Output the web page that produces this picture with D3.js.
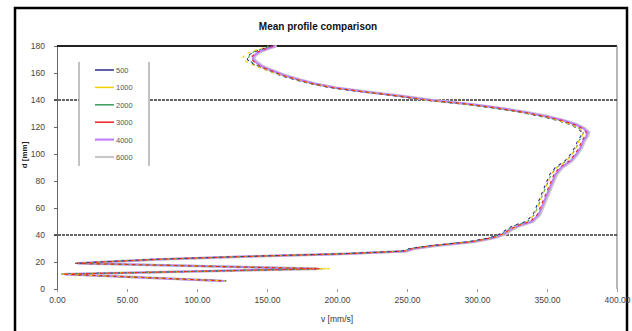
<!DOCTYPE html>
<html>
<head>
<meta charset="utf-8">
<script src="https://cdn.jsdelivr.net/npm/d3@7"></script>
<style>
  html, body { margin: 0; padding: 0; background: #fff; }
  svg { display: block; font-family: 'Liberation Sans', Arial, sans-serif; }
</style>
</head>
<body>
<div id="chart"></div>
<script>
// depth of each profile point [mm], top to bottom (zigzag near the bed)
const depths = [180, 178, 176, 174, 172, 170, 168, 165, 162, 158, 155, 152, 149, 146, 143, 140,
  137, 134, 131, 128, 125, 122, 119, 116, 113, 110, 105, 100, 95, 90, 85, 80, 75, 70, 65, 60,
  55, 50, 47, 44, 41, 38, 35, 32, 30, 28, 26, 24, 22, 20, 19, 15, 11, 6];

const seriesNames = ['500', '1000', '2000', '3000', '4000', '6000'];
const seriesColors = ['#2b2b8c', '#f5d000', '#3a9a5e', '#f02020', '#c080ff', '#c8c8c8'];

// velocity v [mm/s] per series
const v500 = [153, 147, 142, 138, 136, 136, 138, 143, 150, 160, 170, 181, 196, 218, 242, 262,
  290, 312, 330, 345, 357, 366, 372, 375, 374, 372, 370, 367, 363, 356, 352, 350, 348, 346, 344, 342,
  340, 335, 326, 321, 317, 309, 294, 266, 252, 246, 200, 130, 70, 30, 13, 189, 2, 122];
const v1000 = [151, 145, 139, 135, 133, 133, 136, 142, 150, 161, 172, 183, 198, 220, 244, 264,
  292, 314, 332, 347, 358, 367, 373, 376, 375, 373, 371, 368, 364, 357, 353, 351, 349, 347, 345, 343,
  341, 336, 330, 324, 320, 312, 296, 268, 254, 248, 204, 134, 74, 32, 14, 195, 3, 120];
const v2000 = [153, 147, 141, 138, 137, 137, 139, 144, 151, 161, 171, 182, 197, 219, 243, 263,
  291, 313, 331, 346, 358, 367, 373, 376, 375, 373, 371, 368, 364, 357, 353, 351, 349, 347, 345, 343,
  341, 336, 327, 322, 318, 310, 295, 267, 253, 247, 202, 132, 72, 31, 13, 190, 3, 121];
const v3000 = [155, 149, 144, 141, 139, 139, 141, 145, 152, 162, 172, 183, 198, 220, 244, 265,
  293, 315, 333, 348, 360, 369, 375, 378, 377, 375, 373, 370, 366, 359, 355, 353, 351, 349, 347, 345,
  343, 338, 329, 323, 319, 311, 296, 268, 254, 248, 203, 133, 73, 32, 14, 188, 4, 120];
const v4000 = [156, 150, 145, 142, 140, 140, 142, 146, 153, 163, 173, 184, 199, 221, 245, 266,
  294, 316, 334, 349, 361, 370, 376, 379, 378, 376, 374, 371, 367, 360, 356, 354, 352, 350, 348, 346,
  344, 339, 330, 324, 320, 312, 297, 269, 255, 249, 204, 134, 74, 33, 14, 187, 5, 119];
const v6000 = [157, 151, 146, 143, 141, 141, 143, 147, 154, 164, 174, 185, 200, 222, 246, 267,
  295, 317, 335, 350, 362, 371, 377, 380, 379, 377, 375, 372, 368, 361, 357, 355, 353, 351, 349, 347,
  345, 340, 331, 325, 321, 313, 298, 270, 256, 250, 205, 135, 75, 34, 15, 186, 6, 118];

const seriesValues = [v500, v1000, v2000, v3000, v4000, v6000];

const xTicks = [0, 50, 100, 150, 200, 250, 300, 350, 400];
const yTicks = [0, 20, 40, 60, 80, 100, 120, 140, 160, 180];
const gridDepths = [40, 140];

const W = 632, H = 331;
const margin = { top: 46, right: 15, bottom: 42, left: 57 };
const innerW = W - margin.left - margin.right;
const innerH = H - margin.top - margin.bottom;

const svg = d3.select('#chart').append('svg')
  .attr('width', W)
  .attr('height', H);

// outer frame
svg.append('rect')
  .attr('x', 15).attr('y', 8)
  .attr('width', 612).attr('height', 330)
  .attr('fill', 'none')
  .attr('stroke', '#000')
  .attr('stroke-width', 2.5);

svg.append('text')
  .attr('x', 318).attr('y', 30)
  .attr('text-anchor', 'middle')
  .attr('font-size', 10)
  .attr('font-weight', 'bold')
  .attr('fill', '#111')
  .text('Mean profile comparison');

const x = d3.scaleLinear().domain([0, 400]).range([0, innerW]);
const y = d3.scaleLinear().domain([0, 180]).range([innerH, 0]);

const g = svg.append('g')
  .attr('transform', 'translate(' + margin.left + ',' + margin.top + ')');

// x axis: ticks and labels, no line
const xAxis = g.append('g')
  .attr('transform', 'translate(0,' + innerH + ')')
  .call(d3.axisBottom(x).tickValues(xTicks).tickSize(3).tickPadding(5).tickFormat(d3.format('.2f')));
xAxis.select('.domain').remove();
xAxis.selectAll('line').attr('stroke', '#999');
xAxis.selectAll('text').attr('font-size', 8.5).attr('fill', '#444')
  .attr('font-family', "'Liberation Sans', Arial, sans-serif");

// y axis
const yAxis = g.append('g')
  .call(d3.axisLeft(y).tickValues(yTicks).tickSize(3).tickPadding(9));
yAxis.select('.domain').attr('stroke', '#666');
yAxis.selectAll('line').attr('stroke', '#666');
yAxis.selectAll('text').attr('font-size', 8.5).attr('fill', '#444')
  .attr('font-family', "'Liberation Sans', Arial, sans-serif");

// plot border top and right
g.append('line')
  .attr('x1', 0).attr('x2', innerW)
  .attr('y1', 0).attr('y2', 0)
  .attr('stroke', '#222').attr('stroke-width', 2);
g.append('line')
  .attr('x1', innerW).attr('x2', innerW)
  .attr('y1', 0).attr('y2', innerH)
  .attr('stroke', '#888').attr('stroke-width', 1.2);

// dashed horizontal lines
g.selectAll('.grid')
  .data(gridDepths)
  .enter().append('line')
  .attr('class', 'grid')
  .attr('x1', -3).attr('x2', innerW)
  .attr('y1', d => y(d)).attr('y2', d => y(d))
  .attr('stroke', '#333')
  .attr('stroke-width', 1.5)
  .attr('stroke-dasharray', '3,1');

// profiles
const line = d3.line()
  .x(d => x(d[1]))
  .y(d => y(d[0]));

const order = [5, 4, 0, 2, 1, 3];
const widths = [1.1, 1.2, 1.1, 1.1, 2, 2.8];
order.forEach(i => {
  const pts = depths.map((d, k) => [d, seriesValues[i][k]]);
  g.append('path')
    .datum(pts)
    .attr('fill', 'none')
    .attr('stroke', seriesColors[i])
    .attr('stroke-width', widths[i])
    .attr('stroke-dasharray', i < 4 ? '3,4' : null)
    .attr('stroke-dashoffset', i * 2)
    .attr('d', line);
});

// legend
const legend = svg.append('g').attr('transform', 'translate(79,62)');
legend.append('rect')
  .attr('width', 70).attr('height', 104)
  .attr('fill', '#fff');
legend.selectAll('.edge')
  .data([0, 70])
  .enter().append('line')
  .attr('x1', d => d).attr('x2', d => d)
  .attr('y1', 0).attr('y2', 104)
  .attr('stroke', '#999').attr('stroke-width', 1.2);

const items = legend.selectAll('.item')
  .data(seriesNames)
  .enter().append('g')
  .attr('transform', (d, i) => 'translate(0,' + (8 + i * 17.4) + ')');
items.append('line')
  .attr('x1', 16).attr('x2', 35)
  .attr('stroke', (d, i) => seriesColors[i])
  .attr('stroke-width', (d, i) => i >= 4 ? 2.2 : 1.5);
items.append('text')
  .attr('x', 37).attr('y', 3)
  .attr('font-size', 7.5)
  .attr('fill', '#555')
  .text(d => d);

// axis titles
svg.append('text')
  .attr('transform', 'translate(27,155) rotate(-90)')
  .attr('text-anchor', 'middle')
  .attr('font-size', 8)
  .attr('font-weight', 'bold')
  .attr('fill', '#222')
  .text('d [mm]');

svg.append('text')
  .attr('x', 321).attr('y', 322)
  .attr('font-size', 8.5)
  .attr('fill', '#333')
  .text('v [mm/s]');
</script>
</body>
</html>
